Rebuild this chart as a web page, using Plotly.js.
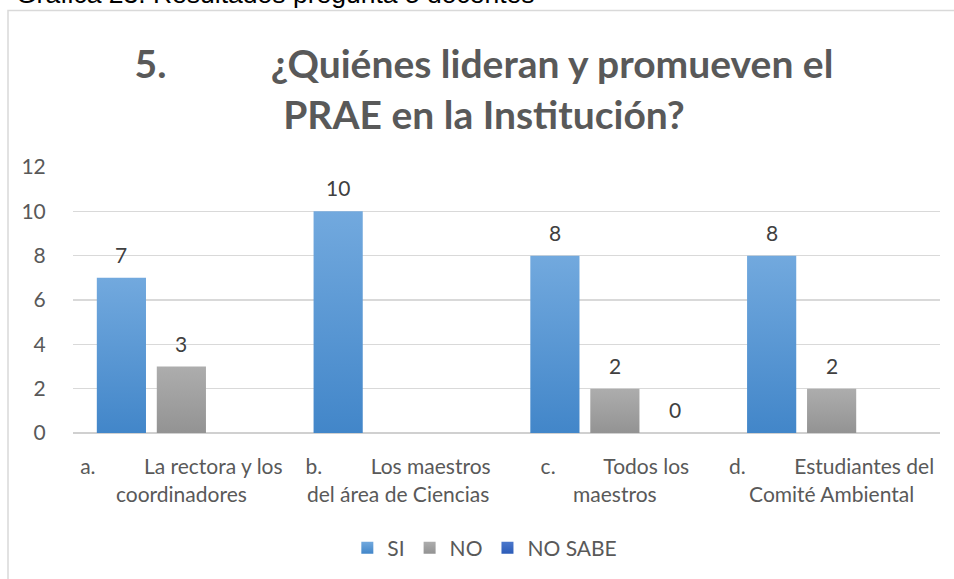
<!DOCTYPE html>
<html><head><meta charset="utf-8">
<script src="https://cdn.plot.ly/plotly-3.0.1.min.js"></script>
<style>html,body{margin:0;padding:0;background:#fff}#chart{width:954px;height:579px}</style>
</head><body><div id="chart"></div>
<script>
const NB = '\u00a0';
const categories = ["a", "b", "c", "d"];
const tickLabels = [
  "a." + NB.repeat(9) + "La rectora y los<br>coordinadores",
  "b." + NB.repeat(9) + "Los maestros<br>del área de Ciencias",
  "c." + NB.repeat(9) + "Todos los<br>maestros",
  "d." + NB.repeat(9) + "Estudiantes del<br>Comité Ambiental"
];
const seriesNames = ["SI", "NO", "NO SABE"];
const siValues = [7, 10, 8, 8];
const noValues = [3, null, 2, 2];
const noSabeValues = [null, null, 0, null];
const yTicks = [0, 2, 4, 6, 8, 10, 12];
const chartTitle = "<b>5." + NB.repeat(11) + "¿Quiénes lideran y promueven el<br>PRAE en la Institución?</b>";
const caption = "Gráfica 23. Resultados pregunta 5 docentes";

const FONT = "Lato, 'Open Sans', sans-serif";
const colors = ["#5b9bd5", "#a5a5a5", "#3f6ac4"];
const gradients = [["#72a9de", "#4286c9"], ["#adadad", "#939393"], ["#4c78cc", "#2c5cb8"]];
const allSeries = [siValues, noValues, noSabeValues];

const traces = allSeries.map((vals, k) => ({
  type: "bar",
  name: seriesNames[k],
  x: categories,
  y: vals,
  marker: { color: colors[k], line: { width: 0 } },
  hoverinfo: "skip"
}));

const annotations = [];
allSeries.forEach((vals, k) => {
  vals.forEach((v, i) => {
    if (v === null) return;
    annotations.push({
      x: categories[i], y: v, xref: "x", yref: "y",
      text: String(v), showarrow: false, yanchor: "bottom",
      xshift: (k - 1) * 60, yshift: 9,
      font: { family: FONT, size: 21, color: "#404040" }
    });
  });
});
annotations.push({
  x: (14 - 73) / 867, xref: "paper", xanchor: "left",
  y: 1, yref: "paper", yanchor: "bottom", yshift: 156,
  text: caption, showarrow: false,
  font: { family: "'Liberation Sans', Arial, sans-serif", size: 26.5, color: "#000" }
});

const layout = {
  width: 954, height: 579,
  margin: { l: 73, r: 14, t: 167, b: 145 },
  paper_bgcolor: "#fff", plot_bgcolor: "#fff",
  barmode: "group", bargap: 0.17, bargroupgap: 0.18,
  title: {
    text: chartTitle, x: 484 / 954, xanchor: "center", xref: "container",
    y: 1 - 78 / 579, yanchor: "top", yref: "container",
    font: { family: FONT, size: 39, color: "#595959" }
  },
  xaxis: {
    type: "category", tickvals: categories, ticktext: tickLabels,
    showgrid: false, showline: false, zeroline: false,
    ticks: "outside", ticklen: 15, tickcolor: "rgba(0,0,0,0)",
    tickfont: { family: FONT, size: 21, color: "#595959" },
    fixedrange: true
  },
  yaxis: {
    range: [0, 12], tickvals: yTicks, showgrid: true, gridcolor: "#d9d9d9", gridwidth: 1.3,
    zeroline: true, zerolinecolor: "#d0d0d0", zerolinewidth: 1.5,
    showline: false, ticks: "outside", ticklen: 22, tickcolor: "rgba(0,0,0,0)",
    tickfont: { family: FONT, size: 21, color: "#595959" },
    fixedrange: true
  },
  legend: {
    orientation: "h", x: 0.475, xanchor: "center", y: (434 - 548) / 267, yanchor: "middle",
    font: { family: FONT, size: 21, color: "#595959" }, bgcolor: "rgba(0,0,0,0)",
    itemwidth: 30
  },
  annotations: annotations,
  shapes: [{
    type: "rect", xref: "paper", yref: "paper",
    x0: (8 - 73) / 867, x1: (970 - 73) / 867,
    y0: (434 - 620) / 267, y1: (434 - 10) / 267,
    line: { color: "#d9d9d9", width: 1.5 }, fillcolor: "rgba(0,0,0,0)", layer: "below"
  }],
  showlegend: true
};

Plotly.newPlot("chart", traces, layout, { displayModeBar: false, staticPlot: true }).then(gd => {
  const svgNS = "http://www.w3.org/2000/svg";
  const svg = gd.querySelector("svg.main-svg");
  const defs = document.createElementNS(svgNS, "defs");
  gradients.forEach((g, k) => {
    const lg = document.createElementNS(svgNS, "linearGradient");
    lg.setAttribute("id", "barGrad" + k);
    lg.setAttribute("x1", "0"); lg.setAttribute("y1", "0");
    lg.setAttribute("x2", "0"); lg.setAttribute("y2", "1");
    [[0, g[0]], [1, g[1]]].forEach(([o, c]) => {
      const st = document.createElementNS(svgNS, "stop");
      st.setAttribute("offset", o); st.setAttribute("stop-color", c);
      lg.appendChild(st);
    });
    defs.appendChild(lg);
  });
  svg.insertBefore(defs, svg.firstChild);
  gd.querySelectorAll(".barlayer .trace").forEach((tr, k) => {
    tr.querySelectorAll("path").forEach(p => { p.style.fill = "url(#barGrad" + k + ")"; });
  });
  gd.querySelectorAll(".legend .traces").forEach((tr, k) => {
    tr.querySelectorAll(".legendpoints path").forEach(p => { p.style.fill = "url(#barGrad" + k + ")"; });
  });
});
</script>
</body></html>
